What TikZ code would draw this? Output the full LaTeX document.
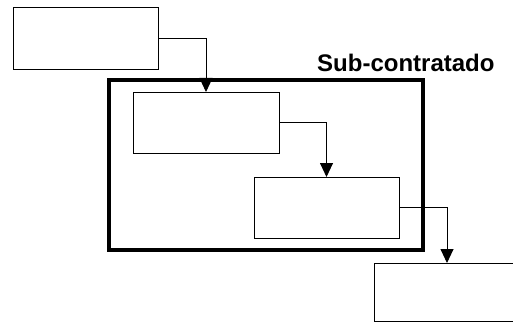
\documentclass[tikz,border=0pt]{standalone}
\usepackage{fontspec}
\setmainfont{Liberation Sans}
\usetikzlibrary{arrows.meta}
\begin{document}
\begin{tikzpicture}[x=1pt,y=-1pt,
  box/.style={draw=black, line width=0.9pt, rectangle, inner sep=0pt, outer sep=0pt},
  frame/.style={draw=black, line width=4.5pt, rectangle, inner sep=0pt, outer sep=0pt},
  link/.style={draw=black, line width=0.9pt, -{Triangle[width=13pt,length=14pt]}},
  lbl/.style={font=\fontsize{24}{28}\selectfont\bfseries, inner sep=0pt}]
\useasboundingbox (0,0) rectangle (513,323);
% subcontracted area
\node[frame, minimum width=314pt, minimum height=170pt] (sub) at (266,165) {};
\node[lbl, anchor=base west] (sublbl) at (317,72) {Sub-contratado};
% process steps
\node[box, minimum width=145pt, minimum height=62pt] (a) at (85.5,38) {};
\node[box, minimum width=146pt, minimum height=61pt] (b) at (206,122.5) {};
\node[box, minimum width=145pt, minimum height=61pt] (c) at (326.5,207.5) {};
\node[box, minimum width=146pt, minimum height=58pt] (d) at (447,292) {};
% flow
\draw[link] (a.east) -| (b.north);
\draw[link] (b.east) -| (c.north);
\draw[link] (c.east) -| (d.north);
\end{tikzpicture}
\end{document}
